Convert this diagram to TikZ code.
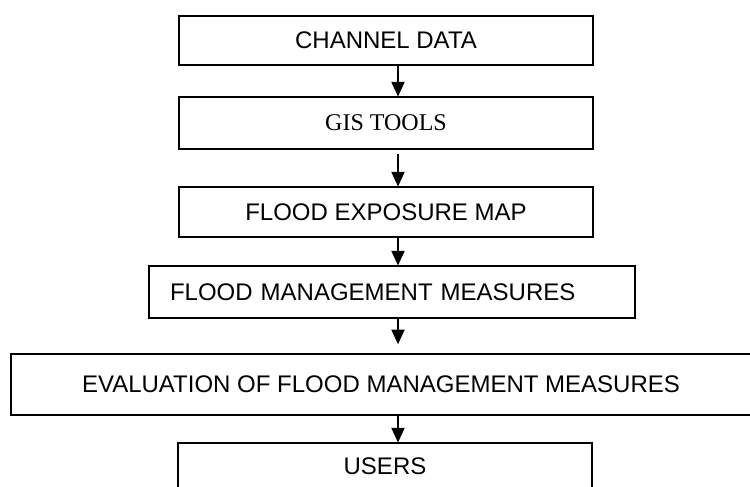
\documentclass[tikz,border=0pt]{standalone}
\usepackage{fontspec}
\setmainfont{Liberation Sans}
\newfontfamily\timesfont{Liberation Serif}
\usetikzlibrary{arrows.meta}
\begin{document}
\begin{tikzpicture}[x=0.75pt, y=-0.75pt,
  font=\fontsize{18pt}{21pt}\selectfont,
  box/.style={draw, line width=0.8pt, inner sep=0pt, minimum width=310.5pt},
  arr/.style={line width=0.8pt, -{Triangle[length=11pt,width=10pt]}}]
\useasboundingbox (0,0) rectangle (750,486);
\clip (0,0) rectangle (750,486);
% boxes, top to bottom
\node[box, minimum height=36.75pt] (cd) at (386,40.5) {CHANNEL DATA};
\node[box, minimum height=39pt, font=\fontsize{18pt}{21pt}\timesfont] (gis) at (386,123) {GIS TOOLS};
\node[box, minimum height=37.5pt] (fem) at (386,212) {FLOOD EXPOSURE MAP};
\node[box, minimum height=39pt, inner xsep=15.75pt, text width=333pt, align=left] (fmm) at (392,292) {FLOOD MANAGEMENT MEASURES};
\node[box, line width=1.2pt, minimum width=555pt, minimum height=45.75pt] (ev) at (381,384.5) {EVALUATION OF FLOOD MANAGEMENT MEASURES};
\node[box, minimum height=35.25pt] (us) at (385,466.5) {USERS};
% arrows share one vertical
\coordinate (ax) at (398,0);
\draw[arr] (cd.south -| ax) -- (gis.north -| ax);
\draw[arr, shorten <=3pt] (gis.south -| ax) -- (fem.north -| ax);
\draw[arr] (fem.south -| ax) -- (fmm.north -| ax);
\draw[arr, shorten >=6.75pt] (fmm.south -| ax) -- (ev.north -| ax);
\draw[arr] (ev.south -| ax) -- (us.north -| ax);
\end{tikzpicture}
\end{document}
